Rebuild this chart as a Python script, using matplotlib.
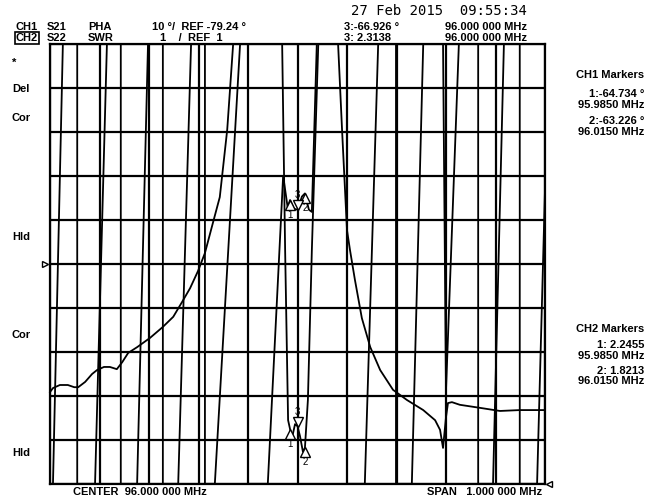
import numpy as np
import matplotlib
matplotlib.use('Agg')
import matplotlib.pyplot as plt
from matplotlib.transforms import offset_copy

# channel settings as shown in the header
CH1_REF = -79.24   # degrees, reference line = centre
CH1_SCALE = 10.0   # degrees / div
CH2_REF = 1.0      # SWR, reference line = bottom
CH2_SCALE = 1.0    # per div

# CH1  S21 phase (values at the graticule edge where clipped)
freq_pha = [95.500, 95.506, 95.526, 95.555, 95.555, 95.591, 95.615, 95.643, 95.643, 95.676,
            95.698, 95.728, 95.728, 95.759, 95.785, 95.813, 95.813, 95.833, 95.884, 95.900,
            95.900, 95.940, 95.971, 95.980, 95.985, 95.993, 96.000, 96.009, 96.015, 96.023,
            96.029, 96.039, 96.100, 96.100, 96.136, 96.163, 96.199, 96.199, 96.231, 96.254,
            96.294, 96.300, 96.326, 96.365, 96.365, 96.395, 96.417, 96.449, 96.449, 96.484,
            96.500]
pha = [-129.2, -129.2, -29.2, -29.2, -129.2, -129.2, -29.2, -29.2, -129.2, -129.2,
       -29.2, -29.2, -129.2, -129.2, -29.2, -29.2, -129.2, -129.2, -29.2, -29.2,
       -129.2, -129.2, -59.2, -66.3, -64.7, -66.7, -66.9, -63.9, -63.2, -66.9,
       -67.4, -29.2, -29.2, -129.2, -129.2, -29.2, -29.2, -129.2, -129.2, -29.2,
       -29.2, -107.9, -29.2, -29.2, -129.2, -129.2, -29.2, -29.2, -129.2, -129.2,
       -62.4]

# CH2  S22 SWR
freq_swr = [95.500, 95.506, 95.520, 95.536, 95.549, 95.557, 95.571, 95.585, 95.595, 95.609,
            95.621, 95.635, 95.646, 95.658, 95.676, 95.702, 95.728, 95.749, 95.767, 95.783,
            95.799, 95.813, 95.829, 95.843, 95.858, 95.870, 95.920, 95.969, 95.975, 95.981,
            95.985, 95.989, 95.995, 96.000, 96.005, 96.011, 96.015, 96.021, 96.029, 96.042,
            96.060, 96.082, 96.090, 96.100, 96.106, 96.116, 96.130, 96.147, 96.167, 96.193,
            96.221, 96.254, 96.278, 96.288, 96.294, 96.300, 96.304, 96.312, 96.328, 96.369,
            96.409, 96.449, 96.500]
swr = [3.09, 3.18, 3.25, 3.25, 3.20, 3.20, 3.32, 3.50, 3.59, 3.66,
       3.66, 3.61, 3.77, 3.98, 4.11, 4.32, 4.57, 4.80, 5.14, 5.45,
       5.84, 6.25, 6.93, 7.52, 9.05, 11.0, 14.0, 11.0, 6.32, 2.45,
       2.2455, 2.05, 2.36, 2.3138, 2.09, 1.73, 1.8213, 2.91, 6.32, 11.0,
       14.0, 11.0, 9.05, 6.77, 6.32, 5.64, 4.77, 4.11, 3.59, 3.14,
       2.91, 2.68, 2.45, 2.23, 1.82, 2.52, 2.84, 2.86, 2.80, 2.73,
       2.66, 2.68, 2.68]

# markers 1, 2, 3 (3 is the active one)
marker_freq = [95.985, 96.015, 96.000]
marker_pha = [-64.734, -63.226, -66.926]
marker_swr = [2.2455, 1.8213, 2.3138]

W, H = 655, 501
FONT = 'Liberation Sans'

fig = plt.figure(figsize=(W / 100, H / 100), dpi=100)
fig.patch.set_facecolor('white')
ax = fig.add_axes([50 / W, 1 - 484 / H, 495 / W, 440 / H])
ax.set_xlim(95.5, 96.5)
ax.set_ylim(0, 10)
ax.set_xticks(np.linspace(95.5, 96.5, 11))
ax.set_yticks(np.arange(0, 11))
ax.tick_params(length=0, labelbottom=False, labelleft=False)
ax.grid(True, color='black', lw=1.6)
for s in ax.spines.values():
    s.set_linewidth(1.6)

pha_div = np.clip(5 + (np.array(pha) - CH1_REF) / CH1_SCALE, 0, 10)
swr_div = np.clip((np.array(swr) - CH2_REF) / CH2_SCALE, 0, 10)
ax.plot(freq_pha, pha_div, color='black', lw=1.3, clip_on=False, zorder=3)
ax.plot(freq_swr, swr_div, color='black', lw=1.3, clip_on=False, zorder=3)

# marker triangles, tip on the trace
ms = 6.5
mk_pha = 5 + (np.array(marker_pha) - CH1_REF) / CH1_SCALE
mk_swr = (np.array(marker_swr) - CH2_REF) / CH2_SCALE
for ys in (mk_pha, mk_swr):
    for i, (f, y) in enumerate(zip(marker_freq, ys)):
        if i == 2:
            tr = offset_copy(ax.transData, fig=fig, x=0, y=ms / 2, units='points')
            ax.plot(f, y, marker='v', ms=ms, mfc='white', mec='black', mew=1, transform=tr, zorder=4)
            tr2 = offset_copy(ax.transData, fig=fig, x=0, y=ms + 4, units='points')
            ax.text(f, y, '3', transform=tr2, ha='center', va='center', fontsize=7, family=FONT, zorder=5)
        else:
            tr = offset_copy(ax.transData, fig=fig, x=0, y=-ms / 2, units='points')
            ax.plot(f, y, marker='^', ms=ms, mfc='white', mec='black', mew=1, transform=tr, zorder=4)
            tr2 = offset_copy(ax.transData, fig=fig, x=0, y=-ms - 4, units='points')
            ax.text(f, y, str(i + 1), transform=tr2, ha='center', va='center', fontsize=7, family=FONT, zorder=5)

# reference position indicators
tr = offset_copy(ax.transAxes, fig=fig, x=-5, y=0, units='dots')
ax.plot(0, 0.5, marker='>', ms=4.5, mfc='white', mec='black', mew=1, transform=tr, clip_on=False)
tr = offset_copy(ax.transAxes, fig=fig, x=4, y=0, units='dots')
ax.plot(1, 0, marker='<', ms=4.5, mfc='white', mec='black', mew=1, transform=tr, clip_on=False)


def put(px, py, s, ha='left', size=8, **kw):
    return fig.text(px / W, 1 - py / H, s, ha=ha, va='center', fontsize=size,
                    family=kw.pop('family', FONT), weight=kw.pop('weight', 'bold'), **kw)


# header
put(351, 11, '27 Feb 2015  09:55:34', size=10, family='DejaVu Sans Mono', weight='normal')
put(16, 27, 'CH1')
fig.add_artist(plt.Line2D([16 / W, 36 / W], [1 - 31.5 / H, 1 - 31.5 / H], color='black', lw=1))
put(16, 38, 'CH2', bbox=dict(boxstyle='square,pad=0.1', fc='white', ec='black', lw=1.2))
put(47, 27, 'S21')
put(47, 38, 'S22')
put(88, 27, 'PHA')
put(88, 38, 'SWR')
put(152, 27, '10 °/  REF -79.24 °')
put(160, 38, '1    /  REF  1')
put(344, 27, '3:-66.926 °')
put(344, 38, '3: 2.3138')
put(527, 27, '96.000 000 MHz', ha='right')
put(527, 38, '96.000 000 MHz', ha='right')

# left annotations
for py, s in [(63, '*'), (89, 'Del'), (118, 'Cor'), (237, 'Hld'), (335, 'Cor'), (453, 'Hld')]:
    put(12, py, s)

# marker readouts
put(644, 75, 'CH1 Markers', ha='right')
put(644, 94, '1:-64.734 °', ha='right')
put(644, 105, '95.9850 MHz', ha='right')
put(644, 121, '2:-63.226 °', ha='right')
put(644, 132, '96.0150 MHz', ha='right')
put(644, 329, 'CH2 Markers', ha='right')
put(644, 345, '1: 2.2455', ha='right')
put(644, 356, '95.9850 MHz', ha='right')
put(644, 371, '2: 1.8213', ha='right')
put(644, 381, '96.0150 MHz', ha='right')

# bottom line
put(73, 492, 'CENTER  96.000 000 MHz')
put(542, 492, 'SPAN   1.000 000 MHz', ha='right')

fig.savefig('out.png', dpi=100, facecolor='white')
